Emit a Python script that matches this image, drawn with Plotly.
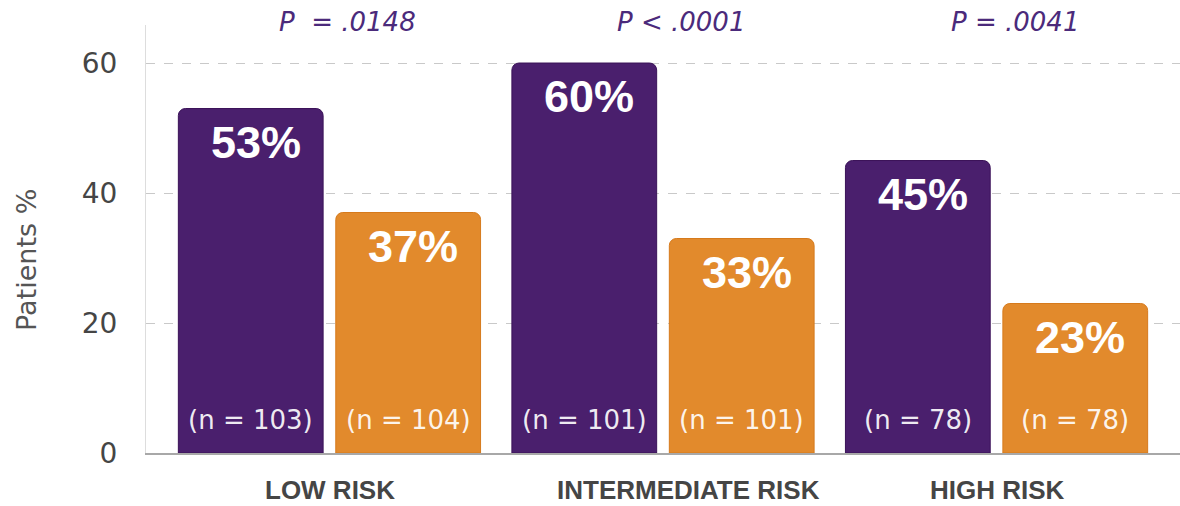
import plotly.graph_objects as go

# Response rates by risk group
categories = ["LOW RISK", "INTERMEDIATE RISK", "HIGH RISK"]
arm_a_pct = [53, 60, 45]
arm_b_pct = [37, 33, 23]
arm_a_n = [103, 101, 78]
arm_b_n = [104, 101, 78]
p_labels = ["P  = .0148", "P < .0001", "P = .0041"]
y_ticks = [0, 20, 40, 60]

PURPLE = "#4a1f6d"
ORANGE = "#e28a2c"
P_COLOR = "#4b2a7b"
TEXT_GRAY = "#454545"

BAR_W = 0.434
OFF_A = -0.453
OFF_B = 0.019

x_idx = list(range(len(categories)))

fig = go.Figure()
fig.add_trace(go.Bar(
    x=x_idx, y=arm_a_pct, width=BAR_W, offset=OFF_A,
    marker=dict(color=PURPLE, cornerradius=7, line=dict(color="#3a1258", width=1)),
    name="Arm A", hoverinfo="y",
))
fig.add_trace(go.Bar(
    x=x_idx, y=arm_b_pct, width=BAR_W, offset=OFF_B,
    marker=dict(color=ORANGE, cornerradius=7, line=dict(color="#d67a1c", width=1)),
    name="Arm B", hoverinfo="y",
))

annotations = []
for i, cat in enumerate(categories):
    for pct, n, off in ((arm_a_pct[i], arm_a_n[i], OFF_A), (arm_b_pct[i], arm_b_n[i], OFF_B)):
        cx = i + off + BAR_W / 2
        # percentage near the top of each bar
        annotations.append(dict(
            x=cx, y=pct, xref="x", yref="y", text=f"{pct}%", showarrow=False,
            xanchor="center", yanchor="top", xshift=5, yshift=-6,
            font=dict(family="Liberation Sans, Arial, sans-serif", size=45, color="white", weight="bold"),
        ))
        # sample size near the base
        annotations.append(dict(
            x=cx, y=0, xref="x", yref="y", text=f"(n = {n})", showarrow=False,
            xanchor="center", yanchor="middle", yshift=33,
            font=dict(family="DejaVu Sans, sans-serif", size=26, color="rgba(255,255,255,0.92)"),
        ))
    # p-value above each group
    annotations.append(dict(
        x=i, y=1, xref="x", yref="paper", text=p_labels[i], showarrow=False,
        xanchor="center", yanchor="middle", xshift=18, yshift=3,
        font=dict(family="DejaVu Sans, sans-serif", size=26, color=P_COLOR, style="italic"),
    ))
    # group label below the axis
    annotations.append(dict(
        x=i, y=0, xref="x", yref="paper", text=cat, showarrow=False,
        xanchor="center", yanchor="middle", xshift=25 if i == 1 else 1, yshift=-37,
        font=dict(family="Liberation Sans, Arial, sans-serif", size=26, color=TEXT_GRAY, weight="bold"),
    ))

annotations.append(dict(
    x=26, y=260, xref="paper", yref="paper", text="Patients %", showarrow=False,
    textangle=-90, xanchor="center", yanchor="middle",
    font=dict(family="DejaVu Sans, sans-serif", size=27, color="#555555"),
))
# place the axis title in pixel terms
annotations[-1].update(x=-146 / 1034 + 26 / 1034, y=(506 - 53 - 260) / 428, xref="paper", yref="paper")

fig.update_layout(
    width=1180, height=506,
    margin=dict(l=146, r=0, t=25, b=53),
    paper_bgcolor="white", plot_bgcolor="white",
    barmode="overlay",
    showlegend=False,
    annotations=annotations,
    xaxis=dict(
        range=[-0.55, 2.55], showticklabels=False, showgrid=False, zeroline=False,
        showline=True, linecolor="#a8a8a8", linewidth=1.5, ticks="",
    ),
    yaxis=dict(
        range=[0, 65.85], tickvals=y_ticks, ticktext=[str(v) for v in y_ticks],
        tickfont=dict(family="DejaVu Sans, sans-serif", size=28, color=TEXT_GRAY),
        ticklabelstandoff=22,
        showgrid=True, gridcolor="#c9c9c9", griddash="dash", gridwidth=1,
        zeroline=False, showline=True, linecolor="#dddddd", linewidth=1,
        ticks="",
    ),
)

fig.write_html("out.html")
